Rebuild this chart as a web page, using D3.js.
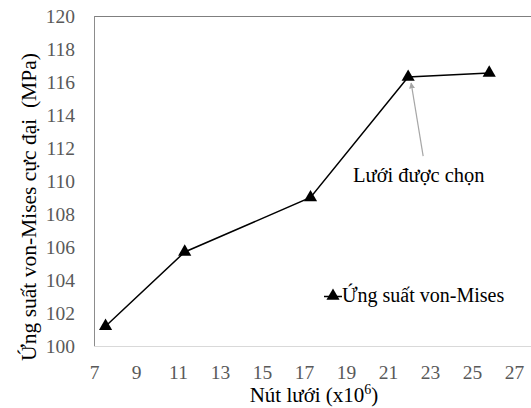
<!DOCTYPE html>
<html><head><meta charset="utf-8">
<script src="https://cdn.jsdelivr.net/npm/d3@7"></script>
<style>body{margin:0;background:#fff}svg{display:block}text{font-family:"Liberation Serif","Times New Roman",serif}</style>
</head><body>
<svg id="c" width="531" height="408"></svg>
<script>
const nodes = [7.55, 11.32, 17.31, 21.96, 25.82];
const stress = [101.2, 105.7, 109.0, 116.3, 116.55];
const xTicks = [7, 9, 11, 13, 15, 17, 19, 21, 23, 25, 27];
const yTicks = [100, 102, 104, 106, 108, 110, 112, 114, 116, 118, 120];
const seriesName = "Ứng suất von-Mises";
const xTitle = "Nút lưới (x10";
const yTitle = "Ứng suất von-Mises cực đại  (MPa)";
const annot = "Lưới được chọn";

const svg = d3.select("#c");
const L = 94, T = 16, B = 346;
const x = d3.scaleLinear().domain([7, 28]).range([L, L + 21 * 21]);
const y = d3.scaleLinear().domain([100, 120]).range([B, T]);

// frame
svg.append("line").attr("x1", L).attr("x2", 531).attr("y1", T + 0.5).attr("y2", T + 0.5).attr("stroke", "#7f7f7f").attr("stroke-width", 1);
svg.append("line").attr("x1", L + 0.5).attr("x2", L + 0.5).attr("y1", T).attr("y2", B).attr("stroke", "#8c8c8c").attr("stroke-width", 1);
svg.append("line").attr("x1", L).attr("x2", 531).attr("y1", B + 0.5).attr("y2", B + 0.5).attr("stroke", "#d9d9d9").attr("stroke-width", 1);

// axes
const xa = svg.append("g").attr("transform", `translate(0,${B})`)
  .call(d3.axisBottom(x).tickValues(xTicks).tickSize(0).tickPadding(19));
xa.select(".domain").remove();
xa.selectAll("text").attr("font-size", 19.5).attr("fill", "#595959");
const ya = svg.append("g").attr("transform", `translate(${L},0)`)
  .call(d3.axisLeft(y).tickValues(yTicks).tickSize(0).tickPadding(19));
ya.select(".domain").remove();
ya.selectAll("text").attr("font-size", 19.5).attr("fill", "#595959");

// titles
const xt = svg.append("text").attr("x", 314).attr("y", 402).attr("text-anchor", "middle").attr("font-size", 21).attr("fill", "#000");
xt.append("tspan").text(xTitle);
xt.append("tspan").attr("font-size", 14).attr("dy", -8).text("6");
xt.append("tspan").attr("dy", 8).text(")");
svg.append("text").attr("transform", "translate(36,207) rotate(-90)").attr("text-anchor", "middle")
  .style("white-space", "pre").attr("xml:space", "preserve")
  .attr("font-size", 21.5).attr("fill", "#000").text(yTitle);

// line
const data = nodes.map((n, i) => ({n, s: stress[i]}));
svg.append("path").datum(data).attr("fill", "none").attr("stroke", "#000").attr("stroke-width", 1.5)
  .attr("d", d3.line().x(d => x(d.n)).y(d => y(d.s)));
const tri = d3.symbol().type(d3.symbolTriangle).size(75);
svg.selectAll(".m").data(data).enter().append("path")
  .attr("transform", d => `translate(${x(d.n)},${y(d.s)})`).attr("d", tri).attr("fill", "#000");

// annotation
const sel = data[3];
const defs = svg.append("defs");
defs.append("marker").attr("id", "ah").attr("viewBox", "0 0 10 10").attr("refX", 9).attr("refY", 5)
  .attr("markerWidth", 5).attr("markerHeight", 5).attr("orient", "auto")
  .append("path").attr("d", "M0,0L10,5L0,10z").attr("fill", "#a6a6a6");
svg.append("line").attr("x1", x(sel.n) + 15).attr("y1", y(sel.s) + 79)
  .attr("x2", x(sel.n) + 3).attr("y2", y(sel.s) + 6)
  .attr("stroke", "#a6a6a6").attr("stroke-width", 1.2).attr("marker-end", "url(#ah)");
svg.append("text").attr("x", 353).attr("y", 182).attr("font-size", 20.5).attr("fill", "#000").text(annot);

// legend
svg.append("line").attr("x1", 324).attr("x2", 342).attr("y1", 296.5).attr("y2", 296.5).attr("stroke", "#000").attr("stroke-width", 1.5);
svg.append("path").attr("transform", "translate(333,296)").attr("d", tri).attr("fill", "#000");
svg.append("text").attr("x", 342).attr("y", 302).attr("font-size", 20).attr("fill", "#000").text(seriesName);
</script>
</body></html>
